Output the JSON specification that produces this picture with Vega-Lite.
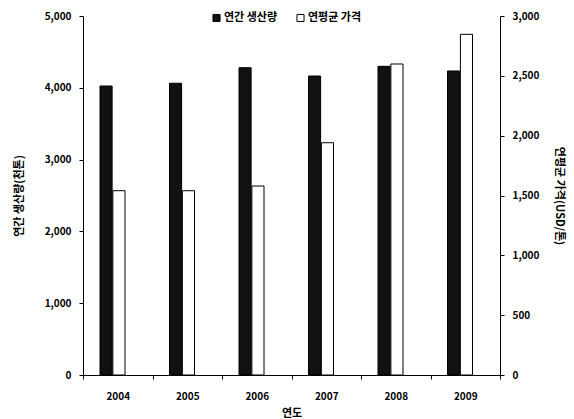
{
  "$schema": "https://vega.github.io/schema/vega-lite/v6.json",
  "autosize": {"type": "none"},
  "width": 417,
  "height": 359,
  "padding": {"left": 83, "top": 16, "right": 74, "bottom": 44},
  "background": "white",
  "config": {
    "view": {"stroke": null},
    "font": "Noto Sans CJK KR",
    "axis": {"grid": false, "domainColor": "black", "tickColor": "black", "labelColor": "black", "titleColor": "black", "labelFontWeight": "bold", "titleFontWeight": "bold", "labelFontSize": 10, "titleFontSize": 11, "labelFont": "Noto Sans CJK KR", "titleFont": "Noto Sans CJK KR"}
  },
  "data": {"values": [
    {"year": "2004", "series": "연간 생산량", "value": 4025},
    {"year": "2005", "series": "연간 생산량", "value": 4063},
    {"year": "2006", "series": "연간 생산량", "value": 4280},
    {"year": "2007", "series": "연간 생산량", "value": 4164},
    {"year": "2008", "series": "연간 생산량", "value": 4299},
    {"year": "2009", "series": "연간 생산량", "value": 4234},
    {"year": "2004", "series": "연평균 가격", "value": 1540},
    {"year": "2005", "series": "연평균 가격", "value": 1540},
    {"year": "2006", "series": "연평균 가격", "value": 1579},
    {"year": "2007", "series": "연평균 가격", "value": 1941},
    {"year": "2008", "series": "연평균 가격", "value": 2599},
    {"year": "2009", "series": "연평균 가격", "value": 2847}
  ]},
  "encoding": {
    "x": {"field": "year", "type": "nominal", "title": "연도",
      "scale": {"paddingInner": 0, "paddingOuter": 0},
      "axis": {"labelAngle": 0, "tickBand": "extent", "tickSize": 4, "labelPadding": 12, "titlePadding": 6}},
    "xOffset": {"field": "series", "type": "nominal",
      "scale": {"domain": ["연간 생산량", "연평균 가격"], "range": [17, 42], "paddingInner": 0.06, "paddingOuter": 0}},
    "fill": {"field": "series", "type": "nominal",
      "scale": {"domain": ["연간 생산량", "연평균 가격"], "range": ["#111111", "white"]},
      "legend": {"title": null, "orient": "none", "legendX": 128, "legendY": -4, "direction": "horizontal", "symbolType": "square", "symbolSize": 50, "symbolStrokeColor": "black", "symbolStrokeWidth": 1, "labelFontWeight": "bold", "labelFontSize": 11, "labelFont": "Noto Sans CJK KR", "columnPadding": 16, "labelOffset": 2}}
  },
  "layer": [
    {
      "transform": [{"filter": "datum.series === '연간 생산량'"}],
      "mark": {"type": "bar", "stroke": "black", "strokeWidth": 1},
      "encoding": {
        "y": {"field": "value", "type": "quantitative", "title": "연간 생산량(천톤)",
          "scale": {"domain": [0, 5000], "nice": false},
          "axis": {"values": [0, 1000, 2000, 3000, 4000, 5000], "format": ",.0f", "tickSize": 4, "labelPadding": 8, "titlePadding": 20}}
      }
    },
    {
      "transform": [{"filter": "datum.series === '연평균 가격'"}],
      "mark": {"type": "bar", "stroke": "black", "strokeWidth": 1},
      "encoding": {
        "y": {"field": "value", "type": "quantitative", "title": "연평균 가격(USD/톤)",
          "scale": {"domain": [0, 3000], "nice": false},
          "axis": {"orient": "right", "values": [0, 500, 1000, 1500, 2000, 2500, 3000], "format": ",.0f", "tickSize": 4, "labelPadding": 8, "titlePadding": 15}}
      }
    }
  ],
  "resolve": {"scale": {"y": "independent"}}
}
